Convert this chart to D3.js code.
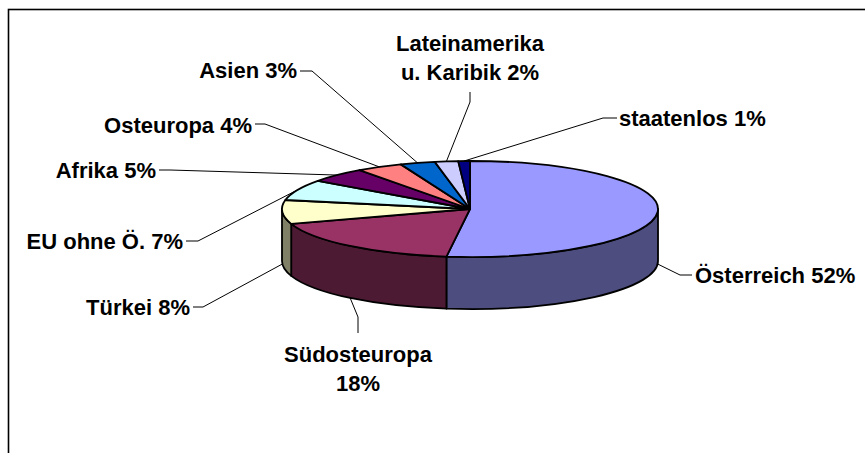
<!DOCTYPE html>
<html>
<head>
<meta charset="utf-8">
<script src="https://cdn.jsdelivr.net/npm/d3@7"></script>
<style>
  body { margin: 0; background: #fff; }
  text { font-family: "Liberation Sans", Arial, sans-serif; font-weight: bold; font-size: 22px; fill: #000; }
</style>
</head>
<body>
<svg id="chart" width="865" height="453"></svg>
<script>
// data
var categories = ["Österreich", "Südosteuropa", "Türkei", "EU ohne Ö.", "Afrika",
                  "Osteuropa", "Asien", "Lateinamerika u. Karibik", "staatenlos"];
var shares = [52, 18, 8, 7, 5, 4, 3, 2, 1];
var labelLines = [
    ["Österreich 52%"], ["Südosteuropa", "18%"], ["Türkei 8%"], ["EU ohne Ö. 7%"], ["Afrika 5%"],
    ["Osteuropa 4%"], ["Asien 3%"], ["Lateinamerika", "u. Karibik 2%"], ["staatenlos 1%"]
];
var colors = ["#9999FF", "#993366", "#FFFFCC", "#CCFFFF", "#660066",
              "#FF8080", "#0066CC", "#CCCCFF", "#000080"];

// label placement (elbow of leader line + text anchor)
var labelLayout = [
    {elbow: [680, 275], end: [692, 275], tx: 695, ty: 283, anchor: "start"},
    {elbow: [358, 317], end: [358, 333], tx: 358, ty: 362, anchor: "middle"},
    {elbow: [203, 307], end: [193, 307], tx: 190, ty: 315, anchor: "end"},
    {elbow: [198, 241], end: [186, 241], tx: 183, ty: 249, anchor: "end"},
    {elbow: [170, 170], end: [159, 170], tx: 156, ty: 178, anchor: "end"},
    {elbow: [265, 124], end: [255, 124], tx: 252, ty: 133, anchor: "end"},
    {elbow: [312, 71], end: [300, 71], tx: 297, ty: 78, anchor: "end"},
    {elbow: [470, 102], end: [470, 92], tx: 470, ty: 51, anchor: "middle"},
    {elbow: [603, 118], end: [617, 118], tx: 619, ty: 126, anchor: "start"}
];

var cx = 470, cy = 209, rx = 188, ry = 48, depth = 52;
var lineH = 28.5;

var svg = d3.select("#chart");

svg.append("rect")
    .attr("x", 8.5).attr("y", 9.5)
    .attr("width", 900).attr("height", 500)
    .attr("fill", "none").attr("stroke", "#000").attr("stroke-width", 1.6);

var pie = d3.pie().sort(null).value(function(d) { return d; });
var arcs = pie(shares);

function px(a) { return cx + rx * Math.sin(a); }
function py(a) { return cy - ry * Math.cos(a); }

function shade(c) {
    var col = d3.rgb(c);
    return d3.rgb(col.r * 0.5, col.g * 0.5, col.b * 0.5).toString();
}

// side walls (front half only)
var sides = svg.append("g").attr("class", "sides");
arcs.forEach(function(d, i) {
    var s = Math.max(d.startAngle, Math.PI / 2);
    var e = Math.min(d.endAngle, 3 * Math.PI / 2);
    if (e <= s) return;
    var p = "M" + px(s) + "," + py(s) +
        "A" + rx + "," + ry + " 0 0 1 " + px(e) + "," + py(e) +
        "L" + px(e) + "," + (py(e) + depth) +
        "A" + rx + "," + ry + " 0 0 0 " + px(s) + "," + (py(s) + depth) + "Z";
    sides.append("path")
        .attr("d", p)
        .attr("fill", shade(colors[i]))
        .attr("stroke", "#000")
        .attr("stroke-width", 1.8)
        .attr("stroke-linejoin", "round");
});

// top faces
var arc = d3.arc().innerRadius(0).outerRadius(rx);
svg.append("g")
    .attr("transform", "translate(" + cx + "," + cy + ") scale(1," + (ry / rx) + ")")
    .selectAll("path")
    .data(arcs)
    .enter().append("path")
    .attr("d", arc)
    .attr("fill", function(d, i) { return colors[i]; })
    .attr("stroke", "#000")
    .attr("stroke-width", 1.8)
    .attr("stroke-linejoin", "round")
    .attr("vector-effect", "non-scaling-stroke");

// leader lines + labels
var labels = svg.append("g").attr("class", "labels");
arcs.forEach(function(d, i) {
    var m = (d.startAngle + d.endAngle) / 2;
    var front = m > Math.PI / 2 && m < 3 * Math.PI / 2;
    var start = [px(m), py(m) + (front ? depth : 0)];
    var L = labelLayout[i];
    labels.append("path")
        .attr("d", d3.line()([start, L.elbow, L.end]))
        .attr("fill", "none")
        .attr("stroke", "#000")
        .attr("stroke-width", 1);
    var t = labels.append("text")
        .attr("x", L.tx).attr("y", L.ty)
        .attr("text-anchor", L.anchor);
    labelLines[i].forEach(function(line, k) {
        t.append("tspan")
            .attr("x", L.tx)
            .attr("y", L.ty + k * lineH)
            .text(line);
    });
});
</script>
</body>
</html>
